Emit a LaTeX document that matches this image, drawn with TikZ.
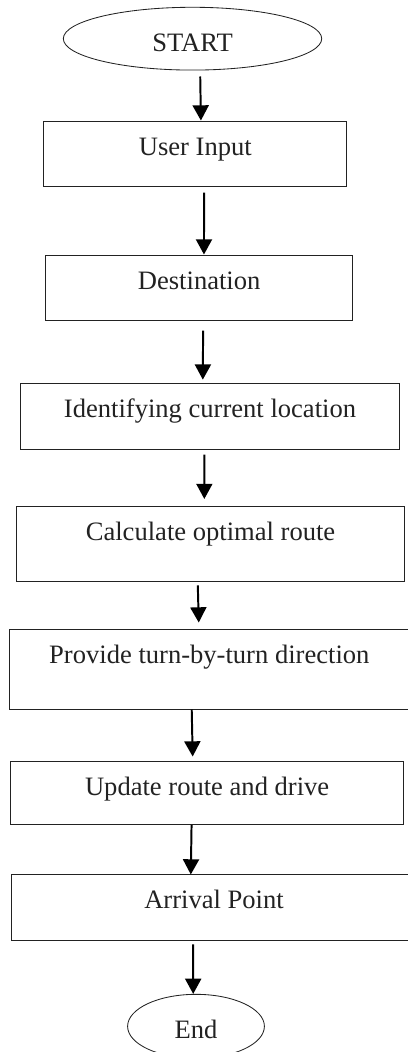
\documentclass[tikz,border=0pt]{standalone}
\usepackage{fontspec}
\setmainfont{Liberation Serif}
\usepackage{tikz}
\usetikzlibrary{
  arrows.meta,
  shapes.geometric,
}
\definecolor{ink}{HTML}{222222}
\tikzset{
  terminal/.style 2 args={
    ellipse, draw=ink, line width=0.6pt, inner sep=0pt,
    minimum width=#1, minimum height=#2, text=ink,
    text height=0.63cm, text depth=0pt,
    font=\fontsize{18.9pt}{22pt}\selectfont,
  },
  stepbox/.style 2 args={
    rectangle, draw=ink, line width=0.7pt, inner sep=0pt,
    minimum width=#1, text=ink,
    text height=0.85cm, text depth=#2,
    font=\fontsize{18.9pt}{22pt}\selectfont,
  },
  flowArrow/.style={
    -{Triangle[length=3.8mm,width=4mm]}, line width=1.4pt, draw=black,
  },
}

\begin{document}
\begin{tikzpicture}[scale=1.0]

\useasboundingbox (0,0) rectangle (10.2,-26.3);
\clip (0,0) rectangle (10.2,-26.3);

% Start and end
\node[terminal={6.46cm}{1.57cm}] (start) at (4.813,-0.967) {START};
\node[terminal={3.42cm}{1.6cm}] (finish) at (4.9,-25.658) {End};

% Steps
\node[stepbox={7.57cm}{0.775cm}] (input)  at (4.883,-3.838)  {User Input};
\node[stepbox={7.66cm}{0.775cm}] (dest)   at (4.979,-7.188)  {Destination};
\node[stepbox={9.47cm}{0.80cm}]  (locate) at (5.25,-10.408)  {Identifying current location};
\node[stepbox={9.69cm}{1.025cm}] (route)  at (5.263,-13.604) {Calculate optimal route};
\node[stepbox={9.97cm}{1.14cm}]  (turns)  at (5.233,-16.73)  {Provide turn-by-turn direction};
\node[stepbox={9.81cm}{0.733cm}] (update) at (5.179,-19.817) {Update route and drive};
\node[stepbox={10.15cm}{0.793cm}] (arrive) at (5.35,-22.696) {Arrival Point};

% Arrows
\draw[flowArrow, shorten <=1.5mm] ([xshift=1.9mm]start.south) -- ([xshift=1.4mm]input.north);
\draw[flowArrow, shorten <=1.5mm] ([xshift=2.2mm]input.south) -- ([xshift=1.2mm]dest.north);
\draw[flowArrow, shorten <=2.5mm, shorten >=0.8mm] ([xshift=1mm]dest.south) -- ([xshift=-1.8mm]locate.north);
\draw[flowArrow, shorten <=1.2mm, shorten >=1.8mm] ([xshift=-1.4mm]locate.south) -- ([xshift=-1.55mm]route.north);
\draw[flowArrow, shorten <=0.8mm, shorten >=1.6mm] ([xshift=-3.2mm]route.south) -- ([xshift=-2.6mm]turns.north);
\draw[flowArrow, shorten >=1mm] ([xshift=-4.4mm]turns.south) -- ([xshift=-3.6mm]update.north);
\draw[flowArrow] ([xshift=-3.9mm]update.south) -- ([xshift=-5.8mm]arrive.north);
\draw[flowArrow, shorten <=0.8mm] ([xshift=-5.2mm]arrive.south) -- ([xshift=-0.7mm]finish.north);

\end{tikzpicture}
\end{document}
